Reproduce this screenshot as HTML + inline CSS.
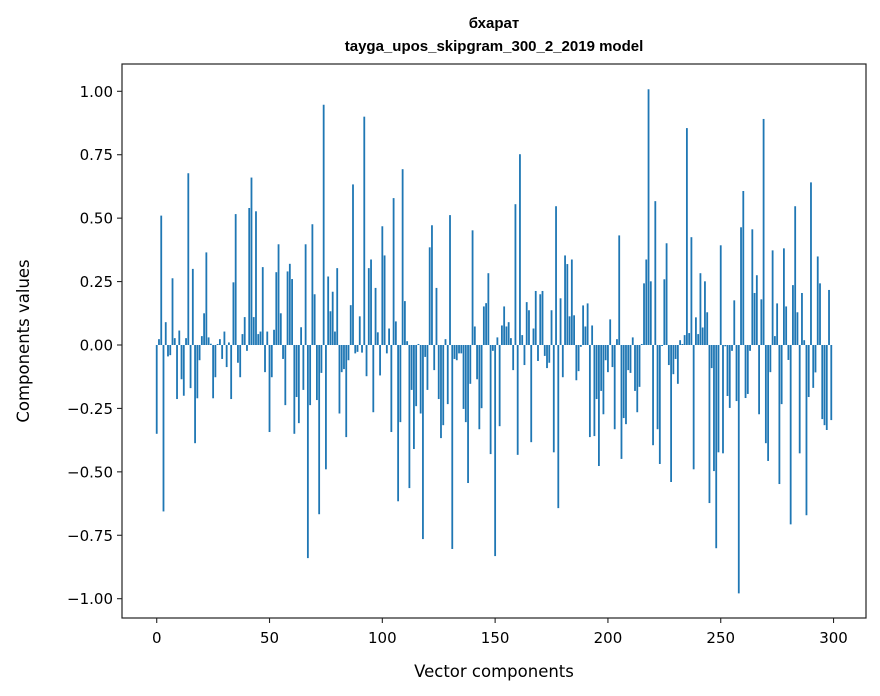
<!DOCTYPE html>
<html><head><meta charset="utf-8">
<style>
html,body{margin:0;padding:0;background:#fff;}
svg{display:block;font-family:"DejaVu Sans","Liberation Sans",sans-serif;}
</style></head>
<body>
<svg id="chart" width="880" height="696" viewBox="0 0 880 696" xmlns="http://www.w3.org/2000/svg">
<rect x="0" y="0" width="880" height="696" fill="#fff"/>
<text x="494" y="28" font-size="15" font-weight="bold" text-anchor="middle" font-family="Liberation Sans, sans-serif">бхарат</text>
<text x="494" y="51" font-size="15" font-weight="bold" text-anchor="middle" font-family="Liberation Sans, sans-serif">tayga_upos_skipgram_300_2_2019 model</text>
<g id="bars"></g>
<g id="axes"></g>
<rect x="122" y="64" width="744" height="554" fill="none" stroke="#222" stroke-width="1.2"/>
<text x="494" y="677" font-size="16.5" text-anchor="middle">Vector components</text>
<text x="0" y="0" font-size="16.5" text-anchor="middle" transform="translate(29,341) rotate(-90)">Components values</text>
</svg>
<script>
const values = [
-0.35,0.023,0.51,-0.656,0.09,-0.045,-0.04,0.263,0.027,-0.213,0.057,-0.135,-0.2,0.027,0.677,-0.17,0.3,-0.387,-0.21,-0.06,0.035,0.125,0.365,0.03,0.005,-0.21,-0.127,0.004,0.023,-0.055,0.053,-0.087,0.01,-0.213,0.247,0.516,-0.07,-0.127,0.043,0.11,-0.023,0.54,0.66,0.11,0.527,0.043,0.053,0.307,-0.107,0.053,-0.343,
-0.127,0.06,0.287,0.397,0.125,-0.055,-0.237,0.29,0.32,0.26,-0.35,-0.205,-0.308,0.07,-0.177,0.397,-0.84,-0.237,0.476,0.2,-0.217,-0.667,-0.11,0.947,-0.49,0.27,0.133,0.21,0.053,0.303,-0.27,-0.107,-0.095,-0.363,-0.06,0.157,0.633,-0.033,-0.027,0.113,-0.03,0.9,-0.123,0.303,0.337,-0.265,0.225,0.05,-0.12,0.468,0.353,
-0.033,0.065,-0.343,0.579,0.093,-0.616,-0.304,0.693,0.173,0.015,-0.564,-0.177,-0.41,-0.241,0.004,-0.27,-0.765,-0.047,-0.177,0.385,0.472,-0.099,0.225,-0.213,-0.367,-0.316,0.023,-0.233,0.512,-0.804,-0.055,-0.06,-0.033,-0.033,-0.252,-0.304,-0.544,-0.153,0.452,0.073,-0.135,-0.332,-0.249,0.152,0.165,0.283,-0.43,-0.023,-0.832,0.03,-0.32,
0.077,0.152,0.073,0.09,0.027,-0.099,0.555,-0.433,0.752,0.039,-0.079,0.169,0.137,-0.383,0.065,0.213,-0.063,0.2,0.213,-0.043,-0.091,-0.07,0.137,-0.423,0.547,-0.643,0.184,-0.127,0.353,0.319,0.113,0.337,0.117,-0.139,-0.103,-0.007,0.156,0.073,0.164,-0.363,0.077,-0.359,-0.213,-0.477,-0.181,-0.273,-0.06,-0.107,0.101,-0.087,-0.332,
0.023,0.432,-0.449,-0.288,-0.312,-0.099,-0.11,0.03,-0.181,-0.265,-0.165,0.004,0.243,0.337,1.008,0.251,-0.395,0.567,-0.332,-0.469,-0.004,0.259,0.401,-0.079,-0.54,-0.115,-0.055,-0.153,0.019,0.004,0.039,0.855,0.047,0.425,-0.49,0.109,0.043,0.283,0.069,0.251,0.129,-0.623,-0.091,-0.497,-0.801,-0.423,0.393,-0.427,-0.005,-0.201,-0.248,
-0.023,0.176,-0.221,-0.979,0.464,0.607,-0.209,-0.193,-0.023,0.456,0.205,0.275,-0.273,0.18,0.891,-0.387,-0.457,-0.107,0.373,0.035,0.164,-0.548,-0.233,0.381,0.152,-0.059,-0.707,0.236,0.547,0.129,-0.427,0.205,0.019,-0.671,-0.205,0.641,-0.169,-0.108,0.349,0.243,-0.292,-0.316,-0.335,0.217,-0.296
];
const xTicks = [0,50,100,150,200,250,300];
const yTicks = [1.00,0.75,0.50,0.25,0.00,-0.25,-0.50,-0.75,-1.00];
const yTickLabels = ["1.00","0.75","0.50","0.25","0.00","\u22120.25","\u22120.50","\u22120.75","\u22121.00"];

const NS = "http://www.w3.org/2000/svg";
const L = 122, R = 866, T = 64, B = 618;
const n = values.length;
const xmin = -0.4 - 0.05*(n - 1 + 0.8), xmax = n - 1 + 0.4 + 0.05*(n - 1 + 0.8);
function xs(v){ return L + (v - xmin) * (R - L) / (xmax - xmin); }
const yZero = 345, yScale = 253.7;
function ys(v){ return yZero - v * yScale; }

const barsG = document.getElementById('bars');
values.forEach((v, i) => {
  const r = document.createElementNS(NS, 'rect');
  const x0 = xs(i - 0.4), x1 = xs(i + 0.4);
  const y0 = Math.min(ys(v), ys(0)), h = Math.abs(ys(v) - ys(0));
  r.setAttribute('x', x0);
  r.setAttribute('y', y0);
  r.setAttribute('width', x1 - x0);
  r.setAttribute('height', Math.max(h, 0.3));
  r.setAttribute('fill', '#1f77b4');
  
  
  barsG.appendChild(r);
});

const axesG = document.getElementById('axes');
xTicks.forEach(t => {
  const x = xs(t);
  const l = document.createElementNS(NS, 'line');
  l.setAttribute('x1', x); l.setAttribute('x2', x);
  l.setAttribute('y1', B); l.setAttribute('y2', B + 5);
  l.setAttribute('stroke', '#222'); l.setAttribute('stroke-width', '1.1');
  
  
  axesG.appendChild(l);
  const tx = document.createElementNS(NS, 'text');
  tx.setAttribute('x', x); tx.setAttribute('y', B + 25);
  tx.setAttribute('font-size', '15'); tx.setAttribute('text-anchor', 'middle');
  tx.textContent = String(t);
  
  
  axesG.appendChild(tx);
});
yTicks.forEach((t, k) => {
  const y = ys(t);
  const l = document.createElementNS(NS, 'line');
  l.setAttribute('x1', L - 5); l.setAttribute('x2', L);
  l.setAttribute('y1', y); l.setAttribute('y2', y);
  l.setAttribute('stroke', '#222'); l.setAttribute('stroke-width', '1.1');
  
  
  axesG.appendChild(l);
  const tx = document.createElementNS(NS, 'text');
  tx.setAttribute('x', L - 9); tx.setAttribute('y', y + 5.5);
  tx.setAttribute('font-size', '15'); tx.setAttribute('text-anchor', 'end');
  tx.textContent = yTickLabels[k];
  
  
  axesG.appendChild(tx);
});
</script>
</body></html>
